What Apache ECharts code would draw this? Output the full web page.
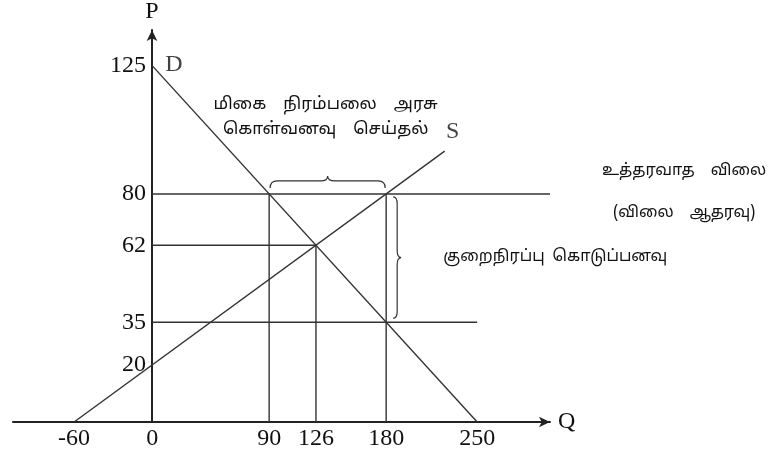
<!DOCTYPE html>
<html>
<head>
<meta charset="utf-8">
<script src="https://cdn.jsdelivr.net/npm/echarts@6/dist/echarts.min.js"></script>
<style>html,body{margin:0;background:#fff}#chart{width:773px;height:454px}</style>
</head>
<body>
<div id="chart"></div>
<script>
var xTicks = [-60, 0, 90, 126, 180, 250];
var yTicks = [20, 35, 62, 80, 125];
var demand = [[0, 125], [250, 0]];
var supply = [[-60, 0], [225, 95]];
var floorPrice = [[0, 80], [306, 80]];
var eqPrice = [[0, 62], [126, 62]];
var buyerPrice = [[0, 35], [250, 35]];
var dropLines = [[[90, 0], [90, 80]], [[126, 0], [126, 62]], [[180, 0], [180, 80]]];
var curveNames = [['D', 0, 125], ['S', 225, 95]];
var hBrace = [[90, 180, 80]];
var vBrace = [[180, 80, 35]];

var sp = '\u2002';
var txtSurplus = 'மிகை' + sp + sp + 'நிரம்பலை' + sp + sp + 'அரசு\nகொள்வனவு' + sp + sp + 'செய்தல்';
var txtDeficit = 'குறைநிரப்பு' + sp + 'கொடுப்பனவு';
var txtSupport = ['உத்தரவாத' + sp + sp + 'விலை', '(விலை' + sp + sp + 'ஆதரவு)'];

var ink = '#333';
var tamilFont = '16px "Noto Sans Tamil", "Noto Sans", sans-serif';
var numFont = 'Liberation Serif';
var numSize = 24;

var xMin = -107, xMax = 306;
var gridL = 13, gridR = 223, chartW = 773;
// y axis sits at Q = 0
var yOffset = -Math.round((chartW - gridL - gridR) * (0 - xMin) / (xMax - xMin));

var myChart = echarts.init(document.getElementById('chart'));

function seg(d, w) {
	return {
		type: 'line', data: d, symbol: 'none', silent: true,
		lineStyle: { color: ink, width: w || 1.4 }
	};
}

var series = [seg(demand), seg(supply), seg(floorPrice), seg(eqPrice), seg(buyerPrice)];
for (var i = 0; i < dropLines.length; i++) {
	series.push(seg(dropLines[i]));
}

// D and S names
series.push({
	type: 'scatter', symbolSize: 0, silent: true,
	data: curveNames.map(function (c, k) {
		return {
			value: [c[1], c[2]],
			label: {
				show: true, formatter: c[0],
				position: k == 0 ? 'right' : 'top',
				offset: k == 0 ? [8, -1] : [8, -2],
				fontFamily: numFont, fontSize: numSize, color: '#111'
			}
		};
	})
});

// brace over the surplus
series.push({
	type: 'custom', silent: true, data: hBrace,
	renderItem: function (params, api) {
		var a = api.coord([api.value(0), api.value(2)]);
		var b = api.coord([api.value(1), api.value(2)]);
		var y = a[1], x1 = a[0] + 1, x2 = b[0] - 1, xm = (x1 + x2) / 2;
		var p = 'M' + x1 + ' ' + (y - 6) +
			' Q' + x1 + ' ' + (y - 13) + ' ' + (x1 + 7) + ' ' + (y - 13) +
			' L' + (xm - 7) + ' ' + (y - 13) +
			' Q' + xm + ' ' + (y - 13) + ' ' + xm + ' ' + (y - 18) +
			' Q' + xm + ' ' + (y - 13) + ' ' + (xm + 7) + ' ' + (y - 13) +
			' L' + (x2 - 7) + ' ' + (y - 13) +
			' Q' + x2 + ' ' + (y - 13) + ' ' + x2 + ' ' + (y - 6);
		return {
			type: 'group',
			children: [
				{ type: 'path', shape: { pathData: p }, style: { fill: null, stroke: ink, lineWidth: 1.2 } },
				{ type: 'text', style: { text: txtSurplus, x: xm - 2, y: y - 76, align: 'center', verticalAlign: 'middle', lineHeight: 25, font: '17px "Noto Sans Tamil", "Noto Sans", sans-serif', fill: '#111' } }
			]
		};
	}
});

// brace beside the subsidy
series.push({
	type: 'custom', silent: true, data: vBrace,
	renderItem: function (params, api) {
		var a = api.coord([api.value(0), api.value(1)]);
		var b = api.coord([api.value(0), api.value(2)]);
		var x = a[0], y1 = a[1] + 3, y2 = b[1] - 4, ym = (y1 + y2) / 2;
		var p = 'M' + (x + 7) + ' ' + y1 +
			' Q' + (x + 11) + ' ' + y1 + ' ' + (x + 11) + ' ' + (y1 + 7) +
			' L' + (x + 11) + ' ' + (ym - 7) +
			' Q' + (x + 11) + ' ' + ym + ' ' + (x + 15) + ' ' + ym +
			' Q' + (x + 11) + ' ' + ym + ' ' + (x + 11) + ' ' + (ym + 7) +
			' L' + (x + 11) + ' ' + (y2 - 7) +
			' Q' + (x + 11) + ' ' + y2 + ' ' + (x + 7) + ' ' + y2;
		return {
			type: 'group',
			children: [
				{ type: 'path', shape: { pathData: p }, style: { fill: null, stroke: ink, lineWidth: 1.2 } },
				{ type: 'text', style: { text: txtDeficit, x: x + 57, y: ym, align: 'left', verticalAlign: 'middle', font: tamilFont, fill: '#111' } }
			]
		};
	}
});

var option = {
	animation: false,
	grid: { left: gridL, right: gridR, top: 30, bottom: 32, containLabel: false, outerBoundsMode: 'none' },
	xAxis: {
		type: 'value', min: xMin, max: xMax,
		name: 'Q', nameLocation: 'end', nameGap: 8,
		nameTextStyle: { fontFamily: numFont, fontSize: numSize, color: '#111' },
		axisLine: { onZero: true, symbol: ['none', 'arrow'], symbolSize: [8, 11], lineStyle: { color: '#222', width: 2 } },
		axisTick: { show: false },
		splitLine: { show: false },
		axisLabel: { customValues: xTicks, margin: 5, fontFamily: numFont, fontSize: numSize, color: '#111' }
	},
	yAxis: {
		type: 'value', min: 0, max: 137.5,
		position: 'left', offset: yOffset,
		name: 'P', nameLocation: 'end', nameGap: 6,
		nameTextStyle: { fontFamily: numFont, fontSize: numSize, color: '#111', align: 'center' },
		axisLine: { onZero: false, symbol: ['none', 'arrow'], symbolSize: [8, 11], lineStyle: { color: '#222', width: 2 } },
		axisTick: { show: false },
		splitLine: { show: false },
		axisLabel: { customValues: yTicks, margin: 6, fontFamily: numFont, fontSize: numSize, color: '#111' }
	},
	series: series
};
myChart.setOption(option);

// guaranteed price note, right of the 80 line
var endPt = myChart.convertToPixel({ gridIndex: 0 }, floorPrice[1]);
myChart.setOption({
	graphic: [
		{ type: 'text', left: 602, top: endPt[1] - 30, style: { text: txtSupport[0], font: tamilFont, fill: '#111' } },
		{ type: 'text', left: 613, top: endPt[1] + 12, style: { text: txtSupport[1], font: tamilFont, fill: '#111' } }
	]
});
</script>
</body>
</html>
